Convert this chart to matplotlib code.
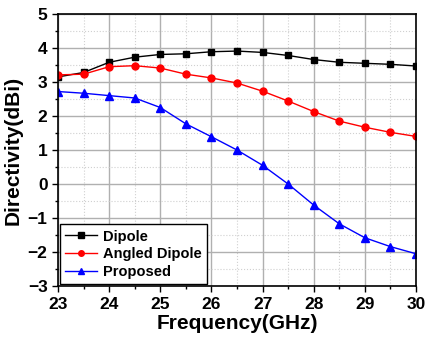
import matplotlib
matplotlib.use("Agg")
import matplotlib.pyplot as plt
from matplotlib.ticker import MultipleLocator

freq = [23, 23.5, 24, 24.5, 25, 25.5, 26, 26.5, 27, 27.5, 28, 28.5, 29, 29.5, 30]
dipole = [3.15, 3.28, 3.58, 3.73, 3.81, 3.83, 3.89, 3.91, 3.87, 3.78, 3.66, 3.58, 3.55, 3.52, 3.47]
angled = [3.21, 3.23, 3.45, 3.48, 3.41, 3.23, 3.12, 2.97, 2.73, 2.44, 2.13, 1.85, 1.67, 1.52, 1.40]
proposed = [2.72, 2.67, 2.60, 2.53, 2.25, 1.77, 1.39, 1.00, 0.55, 0.00, -0.62, -1.17, -1.58, -1.84, -2.05]

plt.rcParams['font.family'] = ['Liberation Sans', 'DejaVu Sans']
plt.rcParams['font.weight'] = 'bold'

fig = plt.figure(figsize=(4.25, 3.41), dpi=100)
ax = fig.add_axes([0.1365, 0.161, 0.8425, 0.798])

ax.plot(freq, dipole, '-s', color='black', lw=1, ms=5, label='Dipole')
ax.plot(freq, angled, '-o', color='red', lw=1, ms=5, label='Angled Dipole')
ax.plot(freq, proposed, '-^', color='blue', lw=1, ms=5.5, label='Proposed')

ax.set_xlim(23, 30)
ax.set_ylim(-3, 5)
ax.xaxis.set_major_locator(MultipleLocator(1))
ax.xaxis.set_minor_locator(MultipleLocator(0.5))
ax.yaxis.set_major_locator(MultipleLocator(1))
ax.yaxis.set_minor_locator(MultipleLocator(0.5))
ax.grid(True, which='major', color='#b0b0b0', lw=1)
ax.grid(True, which='minor', color='#d0d0d0', lw=0.8, ls=':')
ax.set_axisbelow(True)
ax.tick_params(which='major', direction='out', length=4, width=1, labelsize=12.5)
ax.tick_params(which='minor', direction='out', length=2, width=1)
for lab in ax.get_xticklabels() + ax.get_yticklabels():
    lab.set_fontweight('bold')
for s in ax.spines.values():
    s.set_linewidth(1.2)

ax.set_xlabel('Frequency(GHz)', fontsize=15, fontweight='bold', labelpad=2)
ax.set_ylabel('Directivity(dBi)', fontsize=15, fontweight='bold', labelpad=4)

leg = ax.legend(loc='lower left', prop={'weight': 'bold', 'size': 10.5}, fancybox=False,
                edgecolor='black', framealpha=1, borderpad=0.35, labelspacing=0.25,
                handlelength=2.2, handletextpad=0.4, borderaxespad=0.15, markerscale=0.8)
leg.get_frame().set_linewidth(1)

fig.savefig('out.png', dpi=100)
